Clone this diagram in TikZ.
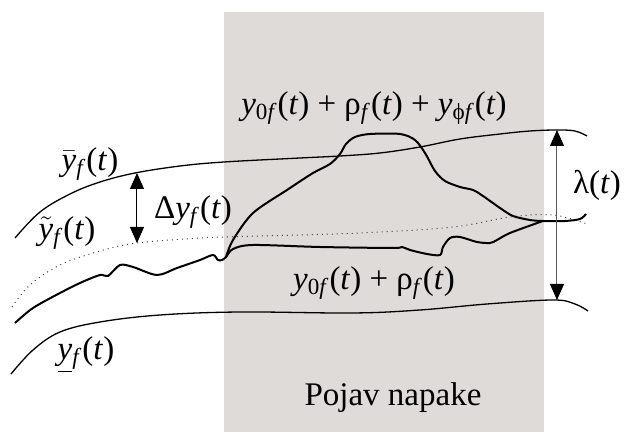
\documentclass[tikz,border=0pt]{standalone}
\usepackage{amsmath}
\usepackage{fontspec}
\setmainfont{Liberation Serif}
\usetikzlibrary{arrows.meta}
\newcommand{\iv}[1]{\textit{#1}}
\newcommand{\sbs}[1]{\textsubscript{#1}}
\newcommand{\accy}[1]{$#1{\text{\itshape y}}$}
\definecolor{faultgray}{RGB}{223,219,217}

\begin{document}
\begin{tikzpicture}[
x=0.5pt,y=-0.5pt,
envcurve/.style={
  line width=0.65pt},
sigcurve/.style={
  line width=1pt,
  line join=round},
meancurve/.style={
  dotted,
  line width=0.5pt,
  black!75},
dimarrow/.style={
  {Triangle[length=8pt,width=7pt,color=black]}-{Triangle[length=8pt,width=7pt,color=black]},
  line width=0.5pt},
lbl/.style={
  font=\fontsize{16.5}{19}\selectfont,
  inner sep=0pt}
]
\useasboundingbox (0,0) rectangle (629,432);
% fault region
\fill[faultgray] (224,12) rectangle (544,432);
% envelopes
\draw[envcurve] plot[smooth,tension=0.6] coordinates {
  (15,238) (40,212) (70,194) (100,182) (135,173) (180,166) (224,162)
  (300,158) (340,156) (380,153) (420,147) (460,139) (500,134)
  (530,131) (557,130) (575,131) (587,136)};
\draw[envcurve] plot[smooth,tension=0.6] coordinates {
  (11,374) (33,350) (60,332) (100,322) (160,315) (240,312)
  (353,313) (420,310) (487,304) (553,300) (575,304) (588,311)};
\draw[meancurve] plot[smooth,tension=0.6] coordinates {
  (12,307) (30,285) (60,265) (100,251) (137,243) (200,238) (224,237)
  (360,233) (453,227) (510,217) (553,215) (587,224)};
% signal
\coordinate (J) at (226,257);
\coordinate (E) at (543,221);
\draw[sigcurve] plot[smooth,tension=0.5] coordinates {
  (15,323) (33,308) (60,293) (80,283) (100,275) (108,276) (120,265)
  (133,267) (157,275) (177,268) (200,260) (213,255) (218,260) (222,260)
  (J) (233,249) (253,245) (320,247) (393,248) (402,247) (410,250)
  (427,254) (440,255) (443,247) (450,238) (460,237) (477,242)
  (490,243) (497,240) (510,233) (E)};
\draw[sigcurve] plot[smooth,tension=0.5] coordinates {
  (J) (233,240) (253,213) (287,190) (313,173) (330,164) (340,154)
  (346,144) (355,137) (370,134) (400,134) (415,140) (425,153)
  (435,171) (445,181) (460,187) (473,190) (483,196) (500,208)
  (513,216) (530,220) (E) (565,221) (580,219) (586,214)};
% dimensions
\coordinate (DU) at (137,173);
\coordinate (DL) at (137,243);
\coordinate (LU) at (557,130);
\coordinate (LL) at (557,300);
\draw[dimarrow] (DU) -- (DL);
\draw[dimarrow, black!65] (LU) -- (LL);
% labels
\node[lbl] (ybar) at (90,164) {\accy{\bar}\sbs{\iv{f}}(\iv{t})};
\node[lbl] (dy) at (193,212) {Δ\iv{y}\sbs{\iv{f}}(\iv{t})};
\node[lbl] (ytil) at (67,233) {\accy{\tilde}\sbs{\iv{f}}(\iv{t})};
\node[lbl] (yund) at (86,355) {\underline{\iv{y}}\sbs{\iv{f}}(\iv{t})};
\node[lbl] (yfault) at (374,108) {\iv{y}\sbs{0\iv{f}}(\iv{t}) + ρ\sbs{\iv{f}}(\iv{t}) + \iv{y}\sbs{ϕ\iv{f}}(\iv{t})};
\node[lbl] (ynorm) at (374,283) {\iv{y}\sbs{0\iv{f}}(\iv{t}) + ρ\sbs{\iv{f}}(\iv{t})};
\node[lbl] (lam) at (597,185) {λ(\iv{t})};
\node[lbl] (pojav) at (393,398) {Pojav napake};
\end{tikzpicture}
\end{document}
